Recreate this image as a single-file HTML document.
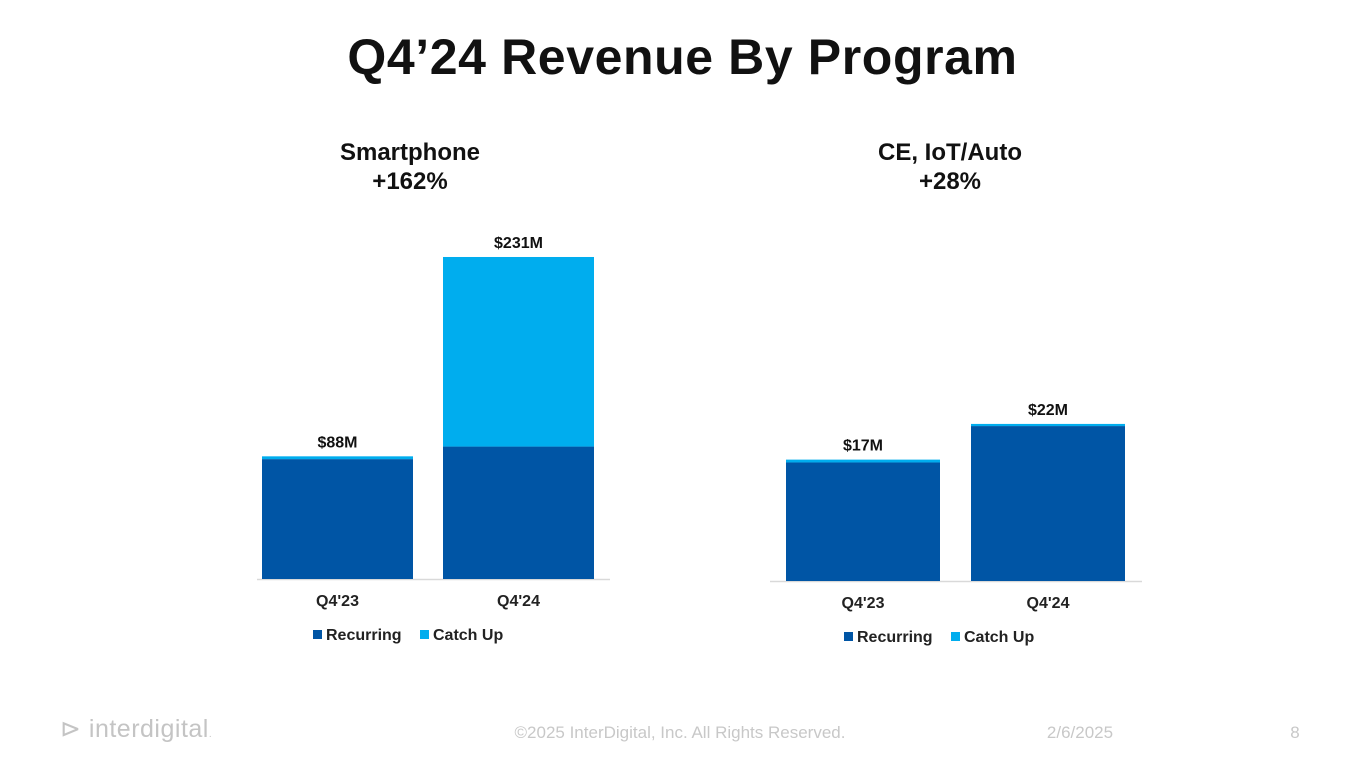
<!DOCTYPE html>
<html><head><meta charset="utf-8">
<style>
body{margin:0;width:1365px;height:768px;background:#fff;font-family:"Liberation Sans",sans-serif;overflow:hidden;position:relative}
.t{position:absolute;text-align:center}
</style></head><body>
<div class="t" style="left:0;width:1365px;top:28px;font-size:50px;font-weight:bold;color:#111;letter-spacing:0.6px">Q4’24 Revenue By Program</div>
<div class="t" style="left:260px;width:300px;top:138px;font-size:24px;font-weight:bold;line-height:29px;color:#111">Smartphone<br>+162%</div>
<div class="t" style="left:800px;width:300px;top:138px;font-size:24px;font-weight:bold;line-height:29px;color:#111">CE, IoT/Auto<br>+28%</div>
<svg id="chart" width="1365" height="768" style="position:absolute;left:0;top:0"></svg>
<div style="position:absolute;left:60px;top:714px;font-size:25px;color:#c4c4c4;letter-spacing:0.5px">⊳ interdigital<span style="font-size:10px">.</span></div>
<div class="t" style="left:480px;width:400px;top:723px;font-size:17px;color:#c8c8c8">©2025 InterDigital, Inc. All Rights Reserved.</div>
<div class="t" style="left:1020px;width:120px;top:723px;font-size:17px;color:#c8c8c8">2/6/2025</div>
<div class="t" style="left:1280px;width:30px;top:723px;font-size:17px;color:#c8c8c8">8</div>
<script>
const categories=["Q4'23","Q4'24"];
const spRecurring=[86,95];
const spCatchUp=[2,136];
const spTotals=["$88M","$231M"];
const ceRecurring=[16.6,21.7];
const ceCatchUp=[0.4,0.3];
const ceTotals=["$17M","$22M"];
const NS="http://www.w3.org/2000/svg";
const svg=document.getElementById('chart');
function mk(tag,attrs,txt){const e=document.createElementNS(NS,tag);for(const k in attrs)e.setAttribute(k,attrs[k]);if(txt!==undefined)e.textContent=txt;svg.appendChild(e);return e;}
function drawChart(cfg,rec,cu,tot,prefix){
  const y=v=>cfg.base-v*cfg.scale;
  const ax=mk('line',{x1:cfg.axL,x2:cfg.axR,y1:cfg.base+0.5,y2:cfg.base+0.5,stroke:'#d9d9d9','stroke-width':1.5});
  
  
  categories.forEach((c,i)=>{
    const x=cfg.x0+i*cfg.step;
    const r=mk('rect',{x:x,width:cfg.bw,y:y(rec[i]),height:rec[i]*cfg.scale,fill:'#0055a5'});
    
    
    const top=rec[i]+cu[i];
    const k=mk('rect',{x:x,width:cfg.bw,y:y(top),height:cu[i]*cfg.scale,fill:'#00adee'});
    
    
    const l=mk('text',{x:x+cfg.bw/2,y:y(top)-9,'text-anchor':'middle','font-size':16,'font-weight':'bold',fill:'#111'},tot[i]);
    
    
    const t=mk('text',{x:x+cfg.bw/2,y:cfg.base+27,'text-anchor':'middle','font-size':16,'font-weight':'bold',fill:'#222'},c);
    
    
  });
  const lx=cfg.legX, ly=cfg.base+51;
  const s1=mk('rect',{x:lx,y:ly,width:9,height:9,fill:'#0055a5'});
  
  
  const t1=mk('text',{x:lx+13,y:ly+10,'font-size':16,'font-weight':'bold',fill:'#222'},'Recurring');
  
  
  const s2=mk('rect',{x:lx+107,y:ly,width:9,height:9,fill:'#00adee'});
  
  
  const t2=mk('text',{x:lx+120,y:ly+10,'font-size':16,'font-weight':'bold',fill:'#222'},'Catch Up');
  
  
}
drawChart({base:579,scale:1.394,x0:262,step:181,bw:151,axL:257,axR:610,legX:313},spRecurring,spCatchUp,spTotals,'smartphone');
drawChart({base:581,scale:7.14,x0:786,step:185,bw:154,axL:770,axR:1142,legX:844},ceRecurring,ceCatchUp,ceTotals,'ce-iot');
</script>
</body></html>
